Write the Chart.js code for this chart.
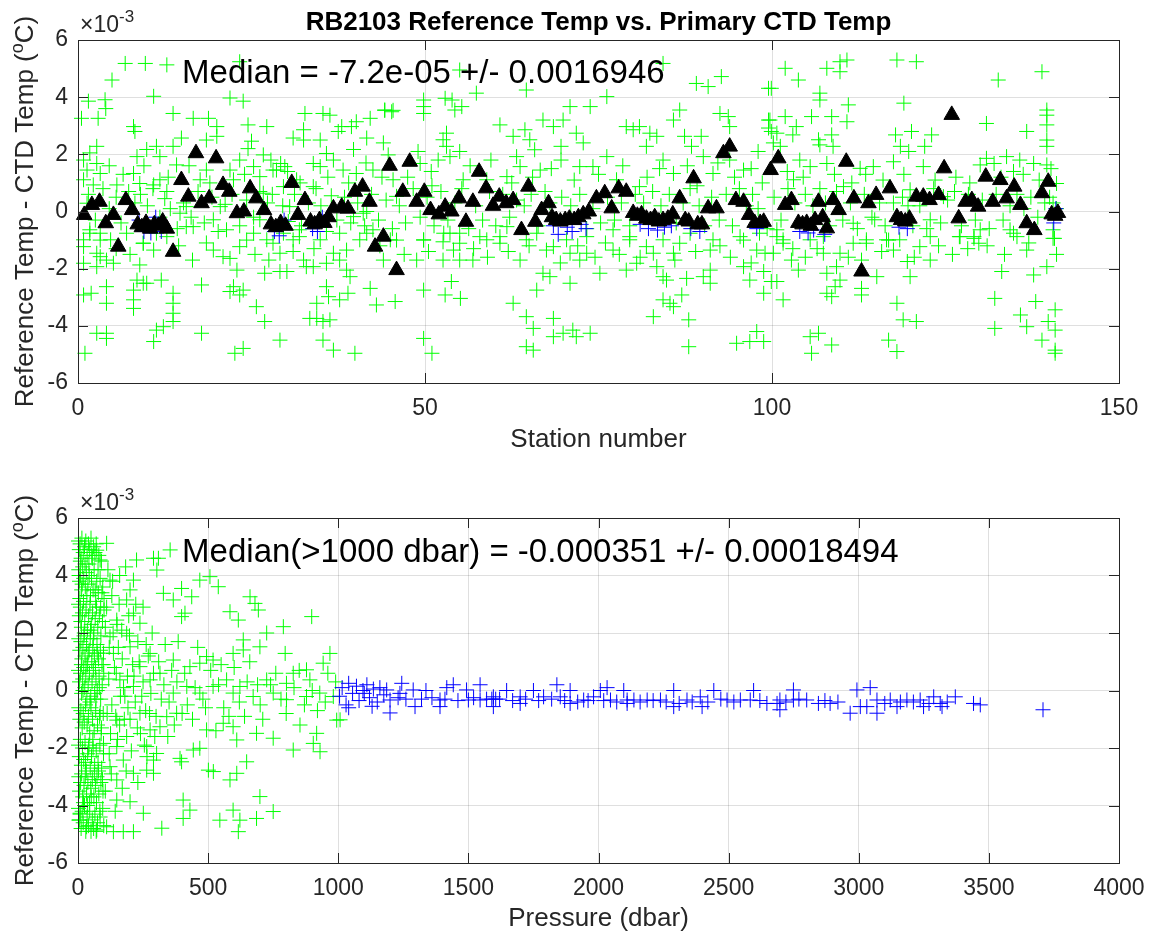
<!DOCTYPE html>
<html>
<head>
<meta charset="utf-8">
<script src="https://cdn.jsdelivr.net/npm/chart.js@4.4.1/dist/chart.umd.min.js"></script>
<style>
  body { margin: 0; background: #fff; }
  #wrap { position: relative; width: 1153px; height: 937px; }
  canvas { position: absolute; left: 0; }
</style>
</head>
<body>
<div id="wrap">
  <canvas id="chart" width="1153" height="470" style="top:0px"></canvas>
  <canvas id="chart2" width="1153" height="467" style="top:470px"></canvas>
</div>
<script>
// values are in units of 1e-3 degC (what the tick labels show)
const stationTicks = [0, 50, 100, 150];
const pressureTicks = [0, 500, 1000, 1500, 2000, 2500, 3000, 3500, 4000];
const diffTicks = [-6, -4, -2, 0, 2, 4, 6];

// top panel: [station, ref - ctd]
const stnAll = [
  [6.8,5.18],[9.7,5.18],[12.8,5.13],[4.9,4.6],[10.9,4.03],[1.5,3.86],[3.9,3.91],[4.0,3.6],[13.7,3.43],[0.5,3.26],
  [2.9,3.26],[8.0,2.97],[8.2,2.8],[16.6,3.26],[18.8,3.26],[21.9,3.97],[23.8,3.86],[23.3,5.24],[24.5,3.03],[27.2,2.97],
  [20.0,2.63],[25.0,2.46],[24.5,2.2],[26.7,1.98],[31.0,2.57],[32.7,3.43],[32.5,2.86],[32.5,2.5],[35.3,3.43],[36.3,3.37],
  [38.0,2.97],[37.5,2.8],[39.4,2.97],[40.1,3.14],[42.1,3.26],[44.0,2.4],[44.2,3.54],[45.4,3.54],[41.6,2.57],[39.7,2.17],
  [35.8,2.03],[34.9,2.5],[33.9,1.68],[29.8,1.57],[29.2,1.68],[28.1,1.45],[25.3,1.57],[23.3,1.8],[21.9,1.45],[18.5,2.5],
  [20.0,2.97],[14.9,2.57],[13.7,2.28],[11.3,2.28],[9.9,2.17],[8.5,1.92],[11.8,1.92],[14.2,1.63],[2.7,2.28],[1.7,2.05],
  [0.8,1.8],[2.7,1.68],[1.3,1.45],[3.2,1.33],[0.8,1.11],[2.2,0.93],[5.6,0.93],[8.0,1.33],[8.9,0.98],[10.9,0.93],
  [11.8,1.11],[12.8,0.7],[17.6,1.11],[18.5,1.45],[22.4,1.11],[26.2,1.22],[26.7,0.64],[28.6,1.45],[29.6,0.87],[31.5,1.11],
  [33.9,0.87],[34.9,1.57],[36.8,1.8],[38.2,1.45],[40.1,1.33],[42.5,1.45],[44.7,1.98],[45.4,1.11],[45.9,0.53],
  [1.3,0.29],[1.7,-0.64],[0.8,-0.99],[3.2,-0.76],[4.7,-0.99],[7.0,-0.76],[9.4,-1.11],[11.3,-0.76],[14.7,-0.06],[15.6,0.17],
  [16.6,-0.53],[19.5,-0.29],[20.5,0.17],[21.4,-0.64],[25.3,-0.76],[26.2,-0.29],[27.2,-0.99],[30.5,0.17],[31.9,-0.64],[34.9,-0.99],
  [37.7,-0.76],[39.7,-0.18],[41.1,-0.06],[42.5,-0.64],[41.6,0.0],
  [0.8,-1.23],[0.8,-1.81],[2.7,-1.93],[3.2,-1.58],[4.1,-1.7],[5.1,-1.81],[1.7,-0.76],[3.2,-1.0],[2.7,-1.46],[0.8,-2.92],
  [1.9,-2.86],[4.1,-2.63],[4.1,-3.21],[2.7,-4.26],[4.1,-4.26],[4.1,-4.44],[1.0,-4.96],[8.0,-2.75],[8.0,-3.09],[8.0,-3.39],
  [8.5,-2.4],[8.9,-1.87],[9.4,-2.51],[9.9,-2.51],[12.0,-2.4],[10.9,-1.35],[9.4,-1.11],[12.8,-0.88],[13.7,-2.86],[13.7,-3.21],
  [13.7,-3.56],[13.7,-3.85],[12.3,-4.03],[10.9,-4.55],[11.3,-4.15],[17.8,-2.57],[17.8,-4.26],[15.6,-0.53],[19.5,-1.35],[20.9,-1.58],
  [21.9,-1.64],[22.4,-2.63],[22.9,-2.05],[21.9,-2.8],[23.3,-2.92],[23.8,-2.75],[22.6,-4.96],[23.8,-4.79],[23.3,-1.23],[24.3,-1.0],
  [25.7,-3.33],[26.9,-3.85],[26.9,-2.16],[29.1,-4.5],[29.1,-2.1],[30.1,-2.1],[28.1,-1.11],[29.1,-1.46],[29.6,-0.76],[31.0,-0.99],
  [31.9,-0.88],[32.5,-1.7],[32.9,-1.93],[33.9,-1.93],[33.4,-3.74],[34.4,-3.74],[34.4,-3.21],[35.8,-2.63],[36.1,-2.98],[35.3,-3.85],
  [36.3,-3.79],[35.3,-4.5],[36.8,-4.85],[39.9,-4.96],[37.7,-3.09],[38.9,-2.86],[35.8,-1.81],[36.8,-1.46],[37.7,-1.7],[38.7,-2.05],
  [39.2,-2.28],[38.7,-1.35],[40.6,-0.99],[41.6,-0.76],[42.1,-2.69],[43.0,-3.27],[44.0,-1.7],[45.7,-3.15],
  [44.2,3.55],[45.2,3.49],[49.8,3.9],[49.8,3.67],[49.8,3.43],[52.9,3.96],[53.9,3.9],[54.3,3.55],[55.3,3.67],[57.4,4.14],
  [55.0,4.95],[53.1,2.74],[52.6,2.51],[53.1,2.28],[55.0,2.1],[53.6,1.92],[51.9,1.8],[50.9,1.4],[49.3,1.68],[49.0,2.1],
  [60.8,3.03],[62.7,2.63],[64.4,2.86],[64.6,4.25],[65.1,2.51],[65.8,2.16],[67.0,3.2],[68.5,2.97],[69.9,3.2],[69.6,2.28],
  [69.6,1.8],[70.9,3.67],[71.8,2.74],[72.8,2.4],[73.8,3.67],[76.2,4.02],[76.2,1.92],[74.2,1.57],[72.3,1.57],[66.6,1.45],
  [63.7,1.57],[63.2,1.92],[61.8,1.22],[58.9,1.11],[55.5,1.11],[79.0,2.97],[80.0,2.86],[80.9,2.97],[82.4,2.74],[83.4,2.63],
  [81.9,2.28],[84.3,5.18],[84.3,1.8],[86.7,3.55],[85.8,3.2],[87.4,2.63],[88.4,2.28],[89.1,4.48],[90.8,4.37],[92.7,4.72],
  [89.8,2.63],[90.1,1.92],[92.5,3.43],[93.7,3.32],[93.9,2.97],[98.0,2.1],[99.5,4.31],[99.5,3.2],[99.5,2.92],[100.7,2.74],
  [95.9,1.45],[93.9,1.8],[91.5,1.33],[85.8,1.33],[80.9,0.87],[77.6,1.11],
  [45.0,-0.99],[49.8,-0.99],[52.7,-0.76],[55.0,-0.76],[58.9,-0.99],[61.8,-0.53],[64.6,-0.99],[66.1,-0.76],[70.4,-0.99],[73.3,-0.88],
  [77.1,-0.64],[79.5,-0.99],[84.3,-0.99],[88.2,-0.76],[91.5,-0.99],[95.4,-0.88],[98.2,-0.76],
  [45.9,-1.0],[49.8,-1.0],[48.8,-1.7],[49.8,-2.75],[49.8,-4.44],[51.0,-4.96],[52.6,-1.06],[53.6,-0.76],[54.1,-1.35],[55.0,-1.11],
  [52.6,-1.7],[55.0,-1.7],[56.9,-1.7],[53.8,-2.45],[52.9,-2.92],[55.1,-3.04],[57.9,-0.88],[60.8,-0.88],[60.8,-1.11],[62.7,-3.21],
  [63.7,-1.7],[64.6,-3.68],[64.6,-4.73],[65.6,-4.85],[65.6,-4.09],[66.1,-2.75],[67.0,-2.16],[68.0,-2.28],[68.5,-4.38],[68.5,-3.74],
  [68.5,-1.23],[67.5,-1.35],[70.9,-2.51],[70.9,-1.46],[69.9,-4.26],[71.3,-4.15],[71.8,-4.38],[73.8,-4.26],[72.3,-1.7],[73.3,-1.46],
  [75.2,-2.16],[77.1,-1.35],[79.0,-2.05],[79.5,-0.88],[80.5,-1.81],[81.9,-1.23],[82.9,-1.46],[82.9,-3.68],[83.4,-1.93],[84.3,-2.28],
  [84.8,-2.4],[84.3,-3.09],[85.3,-3.21],[85.8,-3.33],[85.8,-1.46],[86.7,-1.11],[87.0,-2.92],[87.7,-2.34],[88.0,-3.79],[88.0,-4.73],
  [91.1,-1.35],[91.1,-2.05],[91.1,-2.51],[90.1,-2.28],[95.9,-1.0],[95.9,-1.93],[96.8,-2.4],[98.8,-2.1],[98.8,-2.86],[97.8,-1.35],
  [94.9,-4.61],[96.8,-4.55],[97.8,-4.2],[98.8,-4.55],[100.2,-1.46],[100.7,-2.45],
  [101.9,5.01],[103.8,4.6],[107.9,5.01],[109.8,5.24],[110.8,5.3],[109.8,4.89],[118.0,5.3],[120.8,5.24],[99.9,4.31],[106.9,4.14],
  [106.9,3.9],[111.0,3.73],[119.0,3.79],[132.6,4.6],[138.9,4.89],[99.7,3.2],[101.9,3.32],[103.5,2.97],[105.7,3.32],[108.6,3.32],
  [110.8,3.14],[99.9,2.8],[103.0,2.68],[106.7,2.51],[108.6,2.68],[117.8,2.68],[120.1,2.8],[123.0,2.68],[130.9,3.08],[136.7,2.8],
  [139.6,3.55],[139.6,3.37],[139.6,3.03],[139.6,2.5],[139.6,2.28],[100.2,2.4],[101.2,2.28],[106.9,2.33],[108.8,2.28],[118.5,2.28],
  [119.7,2.1],[122.0,2.28],[104.0,1.8],[105.5,1.57],[107.9,1.68],[112.7,1.51],[114.6,1.57],[117.5,1.74],[121.8,1.57],[130.9,1.86],
  [132.0,1.68],[133.8,1.92],[135.7,1.8],[137.7,1.68],[139.6,1.63],[134.8,1.4],[130.0,1.63],[141.0,0.98],[110.3,0.87],[103.1,1.11],
  [119.9,0.76],[124.7,0.52],
  [100.7,-0.64],[101.6,-0.99],[105.5,-0.99],[111.7,-0.41],[113.6,-0.99],[116.5,-0.99],[118.4,-0.99],[122.8,-0.29],[122.8,-0.88],[127.1,-0.88],
  [129.1,-0.88],[130.0,-0.64],[134.3,-0.64],[135.3,-0.88],[140.5,-0.64],[140.7,-0.94],
  [100.7,-0.88],[101.6,-1.11],[99.0,-1.46],[102.8,-1.7],[103.8,-2.05],[99.9,-2.45],[101.6,-3.09],[107.4,-0.88],[107.4,-1.46],[107.9,-2.16],
  [107.9,-2.86],[108.6,-2.98],[109.3,-1.93],[109.8,-1.46],[109.8,-2.4],[109.1,-2.63],[111.7,-1.11],[113.6,-1.11],[112.9,-1.7],[112.9,-2.69],
  [112.9,-2.92],[115.1,-2.28],[114.8,-0.29],[116.8,-1.0],[117.5,-1.35],[119.5,-1.75],[119.9,-2.28],[118.0,-3.21],[118.9,-3.79],[120.8,-3.85],
  [116.8,-4.5],[118.0,-4.9],[121.3,-1.23],[122.8,-1.7],[105.5,-4.38],[106.7,-4.26],[105.7,-4.96],[108.6,-4.67],[127.0,-0.88],[129.1,-0.94],
  [129.8,-1.11],[133.1,-2.1],[132.1,-3.04],[132.1,-4.09],[135.8,-3.62],[136.7,-4.03],[137.7,-2.22],[138.0,-3.15],[139.6,-1.93],[138.9,-4.5],
  [139.8,-3.85],[140.8,-3.44],[140.8,-4.15],[140.8,-4.85],[140.8,-4.96],[140.5,-0.94],[136.7,-1.35],[134.8,-0.76],
  // the crowded band around zero
  [1.5,0.6],[2.5,-0.3],[3.6,0.8],[4.5,0.1],[5.5,0.5],[6.2,-0.4],[7.3,0.7],[8.2,0.3],[9.0,0.6],[10.0,0.2],
  [10.8,0.8],[11.8,-0.2],[12.5,0.45],[13.3,0.1],[14.3,-0.6],[15.2,0.3],[16.3,-0.2],[17.3,0.7],[18.2,-0.4],[19.3,0.5],
  [20.2,-0.7],[21.2,0.25],[22.2,0.6],[23.3,-0.5],[24.3,0.4],[25.3,-0.2],[26.2,0.7],[27.3,0.3],[28.0,0.6],[29.5,0.2],
  [30.3,-0.35],[31.2,0.6],[32.2,-0.5],[33.2,0.3],[34.3,0.8],[35.0,0.2],[35.8,-0.7],[36.5,0.55],[37.3,-0.3],[38.4,0.5],
  [39.3,-0.4],[40.3,0.3],[41.3,-0.5],[42.3,0.6],[43.3,-0.3],[44.4,0.4],[45.3,-0.6],[46.3,0.2],[47.2,-0.4],[48.3,0.8],
  [49.3,-0.2],[50.3,0.5],[51.3,-0.5],[52.3,0.7],[53.3,-0.3],[54.3,0.3],[55.3,0.8],[56.3,-0.6],[57.3,0.2],[58.3,-0.3],
  [59.3,0.7],[60.2,-0.5],[61.2,0.6],[62.2,-0.2],[63.2,0.4],[64.3,0.2],[65.3,0.6],[66.3,-0.5],[67.3,0.7],[68.0,0.3],
  [69.7,0.5],[71.0,0.2],[72.3,0.6],[73.3,-0.6],[74.2,0.1],[75.3,-0.4],[76.3,0.5],[77.3,-0.3],[78.3,0.3],[79.5,-0.5],
  [80.3,0.6],[81.5,0.3],[82.8,0.7],[84.0,0.2],[85.2,0.6],[86.2,-0.4],[87.2,0.3],[88.2,0.8],[89.5,0.2],[90.3,-0.5],
  [91.3,0.5],[92.4,-0.3],[93.4,0.6],[94.3,-0.5],[95.3,0.8],[96.3,0.2],[97.2,0.6],[98.0,0.1],[99.3,-0.6],[100.3,0.5],
  [101.3,-0.3],[102.3,0.8],[103.3,0.3],[104.8,0.6],[105.9,0.2],[106.9,0.8],[107.7,0.3],[108.3,-0.5],[109.3,0.7],[110.2,-0.3],
  [111.3,0.3],[112.3,-0.6],[113.3,0.6],[114.4,-0.2],[115.5,0.3],[116.3,-0.5],[117.5,0.3],[118.8,0.5],[119.6,0.2],[120.3,-0.5],
  [121.3,0.2],[122.3,-0.6],[123.3,0.8],[124.3,-0.4],[125.3,0.4],[126.3,0.7],[127.3,-0.5],[128.3,0.6],[129.3,-0.3],[130.3,0.4],
  [131.3,-0.6],[132.3,0.6],[133.3,-0.3],[134.3,0.2],[135.3,0.6],[136.3,0.1],[137.3,0.5],[138.3,-0.2],[139.3,0.3],[140.0,0.5],
  [140.5,0.3],[141.0,0.1],
  // the 1-2 bands either side
  [47.5,1.2],[51.0,0.9],[56.5,1.6],[59.5,1.8],[62.5,1.0],[65.5,1.2],[68.2,1.5],[71.5,1.1],[75.0,1.3],[78.5,1.6],
  [82.0,1.2],[83.8,1.5],[87.8,1.6],[89.2,0.9],[92.2,1.7],[94.6,1.2],[97.0,1.5],[98.6,1.0],[102.2,1.4],[104.5,1.2],
  [109.0,1.3],[111.5,1.0],[113.5,1.3],[116.0,1.1],[119.0,1.3],[123.5,1.1],[126.5,1.2],[128.5,1.0],[133.0,1.2],[136.2,1.3],
  [138.5,1.1],[140.2,1.5],[4.5,1.6],[6.5,1.3],[9.5,1.6],[13.0,1.2],[16.0,1.6],[19.0,1.0],[24.0,1.3],[27.8,1.8],
  [30.2,1.4],[32.0,1.0],[36.0,1.2],[39.0,1.0],[41.5,1.7],[43.8,1.2],
  [5.5,-1.3],[7.5,-1.5],[14.5,-1.2],[16.5,-1.7],[18.5,-1.1],[25.5,-1.5],[27.5,-1.7],[31.0,-1.4],[34.0,-1.3],[43.5,-1.2],
  [47.0,-1.5],[50.5,-1.4],[57.0,-1.3],[59.0,-1.6],[62.0,-1.4],[65.0,-1.2],[69.5,-1.8],[72.0,-1.2],[74.5,-1.6],[76.0,-1.1],
  [78.0,-1.5],[81.0,-1.6],[86.0,-1.7],[89.0,-1.4],[92.5,-1.2],[94.0,-1.6],[97.0,-1.8],[103.0,-1.3],[104.8,-1.6],[106.5,-1.3],
  [111.0,-1.6],[115.8,-1.4],[120.5,-1.6],[124.0,-1.2],[126.0,-1.5],[128.2,-1.3],[131.0,-1.2],[133.5,-1.5],[137.0,-1.1],[141.0,-1.5]
];

// deep bottles (>1000 dbar), mostly hidden behind the triangles
const stnDeep = [
  [8.8,-0.3],[9.5,-0.7],[10.5,-0.75],[11.2,-0.2],[12.0,-0.7],[28.3,-0.7],[29.0,-0.85],[29.7,-0.3],[33.8,-0.6],[34.5,-0.7],
  [35.2,-0.2],[68.5,-0.5],[69.2,-0.8],[70.5,-0.55],[71.2,-0.7],[72.5,-0.45],[73.2,-0.6],[81.0,-0.45],[82.2,-0.6],[83.5,-0.65],
  [84.5,-0.55],[85.5,-0.5],[88.3,-0.6],[89.6,-0.7],[97.8,-0.6],[104.0,-0.7],[105.2,-0.75],[106.0,-0.65],[107.6,-0.8],[118.3,-0.55],
  [119.5,-0.6],[140.6,-0.4],[140.9,0.1]
];

// station medians
const stnMedian = [
  [0.9,-0.12],[2.0,0.23],[3.1,0.34],[4.0,-0.41],[5.1,-0.12],[5.8,-1.23],[6.9,0.40],[7.8,0.05],[8.6,-0.45],[9.2,-0.55],
  [9.8,-0.4],[10.4,-0.6],[11.0,-0.45],[11.6,-0.5],[12.2,-0.35],[12.8,-0.6],[13.7,-1.41],[14.9,1.1],[15.9,0.52],[17.0,2.04],
  [17.8,0.29],[18.9,0.46],[19.9,1.86],[20.9,0.93],[21.8,0.69],[22.9,-0.06],[23.9,0.0],[24.8,0.81],[25.7,0.46],[26.8,0.05],
  [27.8,-0.45],[28.5,-0.55],[29.2,-0.4],[29.9,-0.5],[30.8,1.0],[31.7,-0.12],[32.7,0.40],[33.5,-0.35],[34.1,-0.45],[34.8,-0.3],
  [35.5,-0.4],[36.1,-0.2],[36.8,0.11],[38.0,0.17],[38.9,0.1],[39.9,0.69],[41.0,0.87],[42.0,0.34],[42.8,-1.23],[44.0,-0.88],
  [44.9,1.6],[45.9,-2.05],[46.8,0.69],[47.8,1.74],[48.8,0.34],[49.9,0.69],[50.8,0.05],[52.0,-0.1],[52.9,0.17],[53.8,0.0],
  [54.9,0.46],[55.9,-0.36],[56.9,0.34],[57.8,1.39],[58.8,0.81],[59.8,0.2],[60.7,0.52],[61.7,0.29],[62.7,0.4],[63.9,-0.65],
  [64.9,0.87],[65.9,-0.36],[66.8,0.05],[67.8,0.29],[68.3,-0.2],[68.9,-0.3],[69.5,-0.35],[70.2,-0.3],[70.8,-0.25],[71.5,-0.3],
  [72.1,-0.2],[72.8,-0.1],[73.6,0.0],[74.7,0.46],[75.9,0.64],[76.9,0.11],[77.9,0.81],[79.0,0.69],[80.0,-0.05],[80.6,-0.15],
  [81.2,-0.1],[81.9,-0.25],[82.5,-0.3],[83.1,-0.2],[83.7,-0.35],[84.3,-0.3],[85.0,-0.25],[85.7,-0.1],[86.7,0.46],[87.5,-0.3],
  [88.0,-0.35],[88.7,1.16],[89.3,-0.45],[89.9,-0.45],[90.8,0.11],[92.0,0.11],[93.0,2.04],[93.9,2.27],[94.8,0.4],[95.9,0.34],
  [96.7,-0.12],[97.5,-0.4],[98.3,-0.4],[98.8,-0.36],[99.8,1.45],[100.9,1.86],[101.9,0.23],[102.8,0.40],[103.8,-0.4],[104.4,-0.45],
  [105.0,-0.4],[105.6,-0.5],[106.2,-0.3],[106.7,0.34],[107.3,-0.2],[107.9,-0.59],[108.8,0.4],[109.6,0.05],[110.7,1.74],[111.8,0.46],
  [112.9,-2.1],[113.9,0.29],[115.0,0.58],[117.0,0.81],[118.0,-0.2],[118.6,-0.3],[119.2,-0.35],[119.8,-0.25],[120.8,0.52],[121.8,0.52],
  [122.7,0.4],[124.0,0.58],[124.8,1.51],[125.9,3.38],[126.9,-0.24],[127.9,0.34],[128.8,0.4],[129.7,0.17],[130.8,1.22],[131.8,0.34],
  [132.9,1.1],[133.8,0.46],[134.9,0.87],[135.8,0.23],[136.7,-0.41],[137.8,-0.65],[138.9,0.64],[139.8,1.04],[140.3,-0.1],[140.8,-0.15],
  [141.2,-0.05]
];

// bottom panel: [pressure dbar, ref - ctd]
const presShallow = [
  [2,5.2],[5,4.9],[8,5.1],[12,4.6],[15,5.3],[20,4.8],[25,5.0],[30,5.2],[35,4.7],[40,5.1],[45,4.9],[50,5.3],[55,4.6],[60,5.0],
  [65,4.8],[70,5.1],[80,4.7],[90,4.5],
  [3,4.2],[6,3.8],[10,4.0],[14,3.5],[18,4.3],[22,3.9],[28,3.6],[32,4.1],[38,3.7],[42,4.4],[48,3.3],[52,3.9],[58,3.5],[62,4.2],
  [68,3.1],[72,3.8],[78,3.4],[85,3.9],[95,3.6],[100,3.2],
  [2,3.0],[5,2.6],[9,2.9],[13,2.2],[17,2.7],[21,3.1],[26,2.4],[31,2.8],[36,2.1],[41,2.6],[46,3.0],[51,2.3],[56,2.7],[61,2.0],
  [66,2.5],[71,2.9],[76,2.2],[82,2.6],[88,1.9],[94,2.4],[100,2.8],
  [3,1.8],[7,1.4],[11,1.7],[15,1.1],[19,1.5],[23,1.9],[27,1.2],[33,1.6],[37,0.9],[43,1.4],[47,1.8],[53,1.0],[57,1.5],[63,1.2],
  [67,0.8],[73,1.6],[79,1.1],[86,1.4],[92,0.9],[98,1.3],
  [2,0.7],[6,0.3],[10,0.6],[14,-0.1],[18,0.4],[22,0.8],[26,0.1],[30,0.5],[34,-0.3],[39,0.2],[44,0.6],[49,-0.2],[54,0.3],[59,0.7],
  [64,-0.1],[69,0.4],[74,0.0],[81,0.5],[87,-0.3],[93,0.2],[99,0.6],
  [3,-0.6],[7,-1.0],[11,-0.7],[16,-1.3],[20,-0.8],[24,-1.1],[29,-0.5],[35,-1.2],[40,-0.9],[45,-1.5],[50,-0.6],[56,-1.0],[62,-1.4],
  [68,-0.7],[75,-1.2],[83,-0.9],[90,-1.3],[97,-0.8],
  [2,-1.9],[5,-2.3],[9,-1.7],[13,-2.6],[17,-2.0],[22,-2.4],[27,-1.8],[32,-2.8],[37,-2.2],[42,-1.9],[47,-2.7],[52,-2.3],[58,-2.0],
  [64,-2.6],[70,-2.1],[77,-2.5],[84,-1.9],[91,-2.7],[98,-2.2],
  [3,-3.0],[6,-3.5],[10,-3.2],[14,-2.9],[18,-3.7],[23,-3.3],[28,-3.0],[33,-3.6],[38,-3.2],[44,-3.9],[49,-3.4],[55,-3.1],[61,-3.7],
  [67,-3.3],[73,-3.0],[80,-3.6],[88,-3.2],[96,-3.5],
  [2,-4.1],[5,-4.5],[8,-4.3],[12,-4.8],[16,-4.2],[20,-4.6],[25,-4.0],[30,-4.9],[35,-4.4],[40,-4.7],[45,-4.2],[50,-4.9],[55,-4.5],
  [60,-4.8],[65,-4.3],[70,-4.9],[75,-4.6],[85,-4.4],[95,-4.1],
  [4,4.0],[7,3.2],[9,4.5],[11,2.4],[13,0.9],[16,3.7],[19,0.0],[21,-3.9],[24,2.0],[27,4.4],[29,-2.5],[31,0.9],[34,3.3],[36,-4.0],
  [39,1.3],[41,-2.0],[43,4.0],[46,-0.4],[48,2.1],[51,-3.7],[53,4.7],[57,-1.7],[59,1.8],[63,-2.9],[66,3.5],[69,-0.3],[71,-3.9],
  [74,1.3],[77,4.2],[79,-2.8],[82,0.1],[84,-4.2],[87,2.9],[89,-1.5],[92,3.4],[94,-3.1],[97,0.9],[99,-4.7],
  [110,5.12],[72,4.88],[85,4.54],[123,3.84],[213,3.84],[187,3.15],[225,4.54],[290,4.6],[309,4.6],[354,4.89],
  [303,4.19],[328,3.38],[398,3.55],[366,3.15],[411,2.69],[398,2.57],[468,3.84],[507,3.96],[539,3.61],[437,3.26],
  [584,2.74],[616,2.45],[661,3.26],[680,3.03],[693,2.8],[725,2.0],[789,2.22],[898,2.57],[635,1.76],[494,1.18],
  [468,0.95],[519,1.06],[596,1.29],[635,1.41],[699,1.52],[796,1.29],[968,1.29],[942,0.95],[878,0.72],[827,0.6],
  [801,0.25],[725,0.37],[622,0.14],[571,0.37],[519,0.14],[430,0.83],[366,1.06],[315,0.6],[277,1.29],[238,0.83],
  [200,1.52],[187,1.99],[238,2.34],[213,2.69],[149,2.45],[123,1.87],[136,1.29],[161,0.37],[213,0.14],[277,0.37],
  [366,-0.09],[418,0.14],[468,-0.09],[596,-0.09],[673,-0.21],[750,-0.09],[801,-0.32],[878,-0.21],[929,-0.09],[981,-0.21],
  [1007,-1.02],[891,0.37],
  [85,-0.79],[149,-1.03],[238,-0.79],[277,-1.37],[315,-1.26],[341,-0.91],[379,-0.79],[494,-1.37],[558,-1.14],[596,-1.26],
  [610,-1.72],[686,-1.49],[750,-1.66],[853,-1.2],[917,-1.49],[904,-1.84],[930,-2.13],[827,-2.07],[994,-1.03],[468,-2.01],
  [443,-2.07],[392,-2.36],[398,-2.48],[302,-2.19],[264,-1.95],[290,-2.42],[213,-2.88],[264,-2.77],[290,-2.88],[501,-2.77],
  [520,-2.82],[584,-3.11],[610,-2.88],[648,-2.48],[699,-3.69],[750,-4.21],[686,-4.45],[596,-4.16],[622,-4.51],[616,-4.91],
  [545,-4.51],[430,-4.16],[404,-3.81],[404,-4.45],[322,-4.79],[251,-4.27],[200,-3.87],[174,-4.91],[213,-4.91],[136,-4.91],
  [110,-4.74],[72,-4.85],[33,-4.74],[8,-4.27],[4,-4.51],[149,-3.81],[149,-3.11],[123,-2.65],[174,-2.42],[149,-1.95],
  [98,-1.84],[187,-1.6],
  [110,2.9],[120,1.5],[130,-0.5],[140,0.8],[150,2.3],[160,-1.2],[170,1.1],[180,-0.2],[190,0.5],[200,-1.0],
  [210,0.9],[220,-0.4],[230,1.7],[240,-1.5],[250,0.3],[260,-0.7],[270,1.2],[280,-0.1],[290,0.6],[300,-0.9],
  [120,-2.2],[130,3.3],[160,4.0],[170,-3.4],[200,3.5],[105,-3.5],[115,4.2],[125,-1.5],[135,2.0],[145,-0.9],
  [155,1.5],[175,0.1],[185,-2.8],[195,2.6],[230,-3.2],[250,2.9],[265,-2.3],[330,0.2],[350,-0.4],[380,0.3],
  [420,-0.5],[450,0.1],[480,-0.3],[540,0.2],[560,-0.6],[620,-0.4],[650,0.3],[700,-0.5],[740,0.2],[780,-0.3],
  [830,0.1],[870,-0.5],[900,0.0],[950,-0.4],[990,0.3],
  [105,2.2],[112,-0.8],[118,0.4],[128,-2.9],[133,3.8],[143,-4.2],[147,0.6],[152,-1.7],[158,3.0],[163,-0.2],
  [168,2.1],[178,-1.0],[183,4.3],[192,-0.6],[198,1.9],[205,-2.1],[215,0.5],[222,3.0],[228,-1.3],[235,1.0],
  [245,-0.2],[255,-1.9],[262,1.6],[275,-0.8],[285,2.0],[295,-1.6],[310,1.0],[320,-0.3],[335,1.6],[345,-1.6],
  [360,0.7],[370,-1.2],[385,1.7],[400,-0.8],[410,0.6],[440,-1.0],[460,1.5],[490,-0.6],[510,0.7],[530,-1.4],
  [550,0.9],[580,-0.9],[600,0.8],[640,-0.9],[660,1.0],[690,0.2],[710,-1.0],[760,0.6],[800,-0.8],[850,0.7],
  [920,-0.7],[960,0.6]
];

const presDeep = [
  [1005,-0.2],[1015,0.1],[1030,-0.5],[1040,0.25],[1055,-0.1],[1070,0.15],[1080,-0.35],[1095,0.0],[1110,0.2],[1120,-0.25],
  [1135,0.05],[1150,-0.4],[1160,0.1],[1175,-0.15],[1040,-0.6],[1100,-0.1],[1130,-0.55],
  [1186,0.02],[1199,-0.33],[1199,-0.78],[1244,0.25],[1237,-0.1],[1288,0.02],[1295,-0.56],[1337,0.0],[1391,-0.33],
  [1391,-0.56],[1417,0.1],[1442,0.2],[1493,0.02],[1500,-0.33],[1545,0.2],[1545,-0.33],[1596,-0.22],[1596,-0.56],[1647,0.0],
  [1699,-0.22],[1699,-0.45],[1750,0.0],[1789,-0.22],[1840,0.2],[1853,-0.22],[1891,0.0],[1891,-0.45],[1943,-0.33],[1981,-0.22],
  [2007,0.0],[2033,0.1],[2046,-0.33],[2097,0.0],[2110,-0.33],[2110,-0.45],[2136,-0.33],[2187,-0.33],[2238,-0.33],[2289,0.0],
  [2289,-0.56],[2340,-0.33],[2391,-0.22],[2398,-0.56],[2443,0.0],[2494,-0.33],[2545,-0.33],[2583,-0.33],[2596,0.0],[2647,-0.45],
  [2686,-0.45],[2697,-0.33],[2697,-0.67],[2749,0.02],[2749,-0.33],[2800,-0.33],[2845,-0.45],[2890,-0.45],[2967,-0.79],[2993,0.02],
  [3006,-0.56],[3044,0.1],[3031,-0.56],[3070,-0.79],[3070,-0.33],[3121,-0.33],[3147,-0.56],[3185,-0.33],[3236,-0.33],[3249,-0.56],
  [3288,-0.22],[3313,-0.45],[3320,-0.56],[3371,-0.22],[3441,-0.45],[3467,-0.5],[3708,-0.67],
  [1230,-0.25],[1260,-0.3],[1320,-0.3],[1360,-0.25],[1410,-0.3],[1460,-0.35],[1520,-0.25],[1570,-0.3],[1620,-0.3],[1670,-0.35],
  [1720,-0.3],[1770,-0.35],[1820,-0.3],[1870,-0.35],[1920,-0.4],[1960,-0.35],[2020,-0.35],[2070,-0.4],[2160,-0.4],[2210,-0.35],
  [2260,-0.4],[2310,-0.45],[2360,-0.4],[2420,-0.4],[2470,-0.3],[2520,-0.4],[2620,-0.35],[2720,-0.4],[2770,-0.3],[2870,-0.35],
  [2920,-0.4],[3100,-0.45],[3160,-0.4],[3210,-0.4],[3270,-0.45],[3340,-0.4],[1590,-0.3],[1605,-0.3]
];

const FONT = "'Liberation Sans', Arial, Helvetica, sans-serif";
const AXIS_GREY = '#262626';
const GRID = 'rgba(38,38,38,0.15)';

Chart.defaults.font.family = FONT;

function toXY(list) {
    return list.map(p => ({ x: p[0], y: p[1] }));
}

// box, inward ticks, y label with superscript, exponent, note and title
const matlabAxes = {
    id: 'matlabAxes',
    afterDatasetsDraw(chart, args, opts) {
        const { ctx, chartArea: a } = chart;
        const xs = chart.scales.x, ys = chart.scales.y;
        ctx.save();
        ctx.strokeStyle = AXIS_GREY;
        ctx.lineWidth = 1;
        ctx.beginPath();
        xs.ticks.forEach(t => {
            const px = Math.round(xs.getPixelForValue(t.value)) + 0.5;
            ctx.moveTo(px, a.bottom); ctx.lineTo(px, a.bottom - 10);
            ctx.moveTo(px, a.top); ctx.lineTo(px, a.top + 10);
        });
        ys.ticks.forEach(t => {
            const py = Math.round(ys.getPixelForValue(t.value)) + 0.5;
            ctx.moveTo(a.left, py); ctx.lineTo(a.left + 10, py);
            ctx.moveTo(a.right, py); ctx.lineTo(a.right - 10, py);
        });
        ctx.stroke();
        ctx.strokeRect(Math.round(a.left) + 0.5, Math.round(a.top) + 0.5,
                       Math.round(a.right - a.left), Math.round(a.bottom - a.top));

        ctx.fillStyle = AXIS_GREY;
        ctx.textAlign = 'left';
        ctx.textBaseline = 'alphabetic';

        // y axis label, rotated
        ctx.save();
        ctx.translate(33, (a.top + a.bottom) / 2);
        ctx.rotate(-Math.PI / 2);
        const p1 = 'Reference Temp - CTD Temp (', sup = 'o', p2 = 'C)';
        ctx.font = '26px ' + FONT;
        const w1 = ctx.measureText(p1).width, w3 = ctx.measureText(p2).width;
        ctx.font = '18px ' + FONT;
        const w2 = ctx.measureText(sup).width;
        let x0 = -(w1 + w2 + w3) / 2;
        ctx.font = '26px ' + FONT;
        ctx.fillText(p1, x0, 0);
        ctx.font = '18px ' + FONT;
        ctx.fillText(sup, x0 + w1, -10);
        ctx.font = '26px ' + FONT;
        ctx.fillText(p2, x0 + w1 + w2, 0);
        ctx.restore();

        // x10^-3 exponent
        ctx.font = '23px ' + FONT;
        const ex = a.left + 2, ey = a.top - 8;
        ctx.fillText('\u00d710', ex, ey);
        const ew = ctx.measureText('\u00d710').width;
        ctx.font = '17px ' + FONT;
        ctx.fillText('-3', ex + ew, ey - 10);

        // median note placed in data coordinates
        ctx.fillStyle = '#000';
        ctx.font = '33px ' + FONT;
        ctx.textBaseline = 'middle';
        ctx.fillText(opts.note, xs.getPixelForValue(opts.noteAt[0]), ys.getPixelForValue(opts.noteAt[1]));

        if (opts.title) {
            ctx.font = 'bold 26px ' + FONT;
            ctx.textAlign = 'center';
            ctx.textBaseline = 'alphabetic';
            ctx.fillText(opts.title, (a.left + a.right) / 2, 30);
        }
        ctx.restore();
    }
};

function crossSet(label, data, color, order) {
    return {
        label: label,
        data: toXY(data),
        pointStyle: 'cross',
        pointRadius: 7.5,
        borderColor: color,
        backgroundColor: color,
        borderWidth: 1,
        clip: false,
        order: order
    };
}

function axisOptions(min, max, ticks, title, xHeight, titlePad) {
    return {
        x: {
            type: 'linear', min: min, max: max,
            afterBuildTicks: s => { s.ticks = ticks.map(v => ({ value: v })); },
            // fixed height, and no extra room reserved for the end labels
            afterFit: s => { s.height = xHeight; s.paddingLeft = 0; s.paddingRight = 0; },
            grid: { color: GRID, drawTicks: false },
            border: { display: false },
            ticks: { color: AXIS_GREY, font: { size: 23 }, padding: 12, maxRotation: 0,
                     callback: v => String(v) },
            title: { display: true, text: title, color: AXIS_GREY, font: { size: 26 },
                     padding: { top: 0, bottom: titlePad } }
        },
        y: {
            type: 'linear', min: -6, max: 6,
            afterBuildTicks: s => { s.ticks = diffTicks.map(v => ({ value: v })); },
            afterFit: s => { s.width = 78; s.paddingTop = 0; s.paddingBottom = 0; },
            grid: { color: GRID, drawTicks: false },
            border: { display: false },
            ticks: { color: AXIS_GREY, font: { size: 23 }, padding: 10, callback: v => String(v) }
        }
    };
}

function Station_chart() {
    const config = {
        type: 'scatter',
        data: {
            datasets: [
                {
                    label: 'station median',
                    data: toXY(stnMedian),
                    pointStyle: 'triangle',
                    pointRadius: 9,
                    backgroundColor: '#000',
                    borderColor: '#000',
                    borderWidth: 1,
                    clip: false,
                    order: 0
                },
                crossSet('deep', stnDeep, '#0000ff', 1),
                crossSet('all', stnAll, '#00ff00', 2)
            ]
        },
        options: {
            responsive: false,
            animation: false,
            devicePixelRatio: 1,
            events: [],
            layout: { padding: { top: 40, right: 34, left: 0, bottom: 0 } },
            scales: axisOptions(0, 150, stationTicks, 'Station number', 87, 15),
            plugins: {
                legend: { display: false },
                tooltip: { enabled: false },
                matlabAxes: {
                    title: 'RB2103 Reference Temp vs. Primary CTD Temp',
                    note: 'Median = -7.2e-05 +/- 0.0016946',
                    noteAt: [15, 4.8]
                }
            }
        },
        plugins: [matlabAxes]
    };
    new Chart(document.getElementById('chart').getContext('2d'), config);
}

function Pressure_chart() {
    const config = {
        type: 'scatter',
        data: {
            datasets: [
                crossSet('deep', presDeep, '#0000ff', 1),
                crossSet('shallow', presShallow, '#00ff00', 2)
            ]
        },
        options: {
            responsive: false,
            animation: false,
            devicePixelRatio: 1,
            events: [],
            layout: { padding: { top: 48, right: 34, left: 0, bottom: 0 } },
            scales: axisOptions(0, 4000, pressureTicks, 'Pressure (dbar)', 74, 3),
            plugins: {
                legend: { display: false },
                tooltip: { enabled: false },
                matlabAxes: {
                    title: null,
                    note: 'Median(>1000 dbar) = -0.000351 +/- 0.00018494',
                    noteAt: [400, 4.8]
                }
            }
        },
        plugins: [matlabAxes]
    };
    new Chart(document.getElementById('chart2').getContext('2d'), config);
}

window.onload = function () {
    Station_chart();
    Pressure_chart();
};
</script>
</body>
</html>
